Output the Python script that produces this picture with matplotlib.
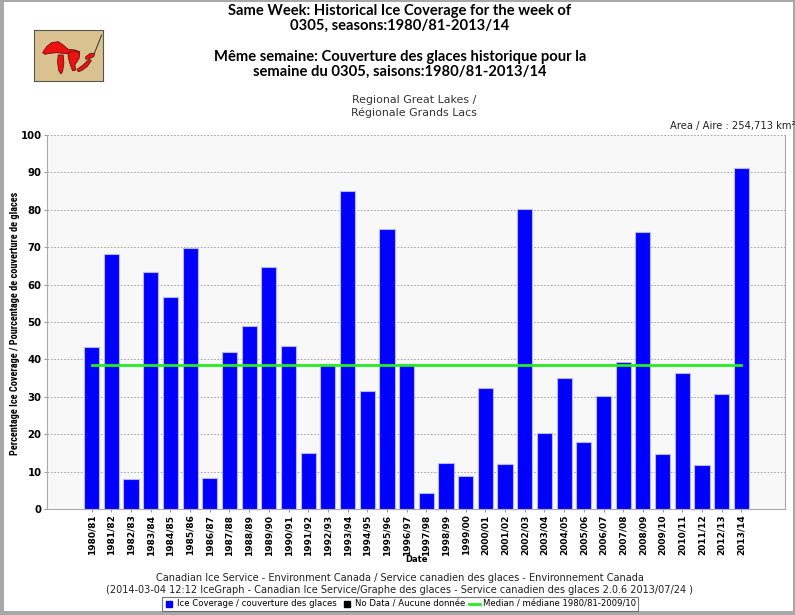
import matplotlib
matplotlib.use("Agg")
import matplotlib.pyplot as plt
from matplotlib.patches import Rectangle, Polygon
from matplotlib.lines import Line2D
from matplotlib import font_manager
import numpy as np

# data
seasons = ["1980/81", "1981/82", "1982/83", "1983/84", "1984/85", "1985/86",
           "1986/87", "1987/88", "1988/89", "1989/90", "1990/91", "1991/92",
           "1992/93", "1993/94", "1994/95", "1995/96", "1996/97", "1997/98",
           "1998/99", "1999/00", "2000/01", "2001/02", "2002/03", "2003/04",
           "2004/05", "2005/06", "2006/07", "2007/08", "2008/09", "2009/10",
           "2010/11", "2011/12", "2012/13", "2013/14"]
coverage = [43.2, 68.1, 7.9, 63.4, 56.6, 69.7,
            8.3, 41.9, 48.9, 64.8, 43.6, 15.0,
            38.4, 84.9, 31.6, 74.9, 38.8, 4.4,
            12.3, 8.9, 32.4, 11.9, 80.2, 20.4,
            34.9, 18.0, 30.1, 39.3, 74.0, 14.8,
            36.3, 11.7, 30.7, 91.2]
median_value = 38.6
y_ticks = list(range(0, 101, 10))

names = {f.name for f in font_manager.fontManager.ttflist}
head_font = "Lato" if "Lato" in names else "DejaVu Sans"
narrow = head_font
for cand in ["Roboto Condensed", "Open Sans Condensed", "Fira Sans Condensed",
             "IBM Plex Sans Condensed", "Encode Sans Condensed", "PT Sans Narrow"]:
    if cand in names:
        narrow = cand
        break
plt.rcParams["font.family"] = ["DejaVu Sans"]

W, H = 795, 615
fig = plt.figure(figsize=(W / 100, H / 100), dpi=100)
fig.patch.set_facecolor("#a8a8a8")
fig.add_artist(Rectangle((4 / W, 4 / H), (W - 6) / W, (H - 6) / H,
                         transform=fig.transFigure, facecolor="white",
                         edgecolor="none", zorder=0))
renderer = fig.canvas.get_renderer()


def fy(py):
    return 1 - py / H


def fit_size(text, width_px, family, weight="normal", start=10):
    t = fig.text(0, 0, text, fontsize=start, family=family, fontweight=weight)
    w = t.get_window_extent(renderer).width
    t.remove()
    return start * width_px / w


# titles
ts = fit_size("Same Week: Historical Ice Coverage for the week of", 345, head_font, "bold")
title_lines = [(11, "Same Week: Historical Ice Coverage for the week of"),
               (26, "0305, seasons:1980/81-2013/14"),
               (57, "Même semaine: Couverture des glaces historique pour la"),
               (72, "semaine du 0305, saisons:1980/81-2013/14")]
for py, line in title_lines:
    fig.text(400 / W, fy(py), line, ha="center", va="center", fontsize=ts,
             fontweight="bold", family=head_font)
ss = fit_size("Regional Great Lakes /", 124, "DejaVu Sans")
fig.text(414 / W, fy(100), "Regional Great Lakes /", ha="center", va="center",
         fontsize=ss, color="#333333")
fig.text(414 / W, fy(113), "Régionale Grands Lacs", ha="center", va="center",
         fontsize=ss, color="#333333")
area = "Area / Aire : 254,713 km²"
fig.text(795 / W, fy(126), area, ha="right", va="center",
         fontsize=fit_size(area, 126, "DejaVu Sans"), color="#222222")

# logo
lx, ly, lw, lh = 34, 30, 69, 51
logo = fig.add_axes([lx / W, fy(ly + lh), lw / W, lh / H])
logo.set_facecolor("#d9c28f")
logo.set_xlim(102, 310)
logo.set_ylim(243, 90)
logo.set_xticks([])
logo.set_yticks([])
for s in logo.spines.values():
    s.set_color("#555555")
    s.set_linewidth(0.8)
lakes = [
    [(128, 158), (140, 140), (155, 128), (175, 125), (190, 135), (205, 148), (225, 150),
     (240, 155), (235, 165), (210, 162), (190, 160), (170, 158), (150, 160), (135, 163)],
    [(175, 165), (190, 165), (192, 190), (188, 215), (183, 222), (176, 210), (173, 185)],
    [(205, 158), (225, 152), (240, 160), (238, 175), (225, 195), (228, 210), (218, 212),
     (210, 190), (205, 170)],
    [(232, 208), (250, 195), (268, 178), (275, 182), (262, 200), (245, 212), (235, 215)],
    [(258, 170), (272, 160), (285, 160), (282, 170), (268, 176), (258, 178)],
]
for pts in lakes:
    logo.add_patch(Polygon(pts, closed=True, facecolor="#ee1111", edgecolor="#661111", lw=0.6))
logo.plot([284, 292, 298, 306], [160, 140, 125, 105], color="#333333", lw=0.7)

# main plot
ax = fig.add_axes([47 / W, fy(509), (785 - 47) / W, (509 - 135) / H])
ax.set_facecolor("#f8f8f8")
x = np.arange(len(seasons))
ax.bar(x, coverage, width=0.77, color="#0000ff", edgecolor="#b8b8f0", linewidth=0.8, zorder=2)
ax.plot([x[0], x[-1]], [median_value, median_value], color="#22ee22", lw=2, zorder=3)

ax.set_xlim(-2.27, len(seasons) - 1 + 2.22)
ax.set_ylim(0, 100)
ax.set_yticks(y_ticks)
ax.set_yticklabels([str(v) for v in y_ticks], fontsize=7.3, fontweight="bold")
ax.set_xticks(x)
ax.set_xticklabels(seasons, rotation=90, fontsize=6.5, fontweight="bold")
ax.tick_params(axis="both", length=2, width=0.6, color="#888888", pad=2)
ax.yaxis.grid(True, linestyle=(0, (2, 2)), color="#999999", linewidth=0.6, zorder=1)
ax.set_axisbelow(True)
ax.spines["top"].set_visible(False)
for side in ["left", "right", "bottom"]:
    ax.spines[side].set_color("#aaaaaa")
    ax.spines[side].set_linewidth(0.8)

ylab = "Percentage Ice Coverage / Pourcentage de couverture de glaces"
fig.text(15 / W, fy(323), ylab, rotation=90, ha="center", va="center",
         fontsize=fit_size(ylab, 263, narrow, "bold"), fontweight="bold", family=narrow)
fig.text(416 / W, fy(560), "Date", ha="center", va="center", fontsize=6, fontweight="bold")

# footer
fig.text(400 / W, fy(578),
         "Canadian Ice Service - Environment Canada / Service canadien des glaces - Environnement Canada",
         ha="center", va="center", fontsize=7, color="#222222")
fig.text(400 / W, fy(590),
         "(2014-03-04 12:12 IceGraph - Canadian Ice Service/Graphe des glaces - Service canadien des glaces 2.0.6 2013/07/24 )",
         ha="center", va="center", fontsize=7, color="#222222")

handles = [
    Line2D([], [], marker="s", linestyle="none", color="#0000ff", markersize=5),
    Line2D([], [], marker="s", linestyle="none", color="#000000", markersize=5),
    Line2D([], [], color="#22ee22", lw=2),
]
labels = ["Ice Coverage / couverture des glaces", "No Data / Aucune donnée",
          "Median / médiane 1980/81-2009/10"]
leg = fig.legend(handles, labels, loc="center", bbox_to_anchor=(400 / W, fy(604)),
                 ncol=3, fontsize=6.1, frameon=True, fancybox=False,
                 handlelength=1.3, handletextpad=0.3, columnspacing=0.5,
                 borderpad=0.25, borderaxespad=0)
leg.get_frame().set_edgecolor("#555555")
leg.get_frame().set_linewidth(0.8)

fig.savefig("out.png", dpi=100, facecolor=fig.get_facecolor())
